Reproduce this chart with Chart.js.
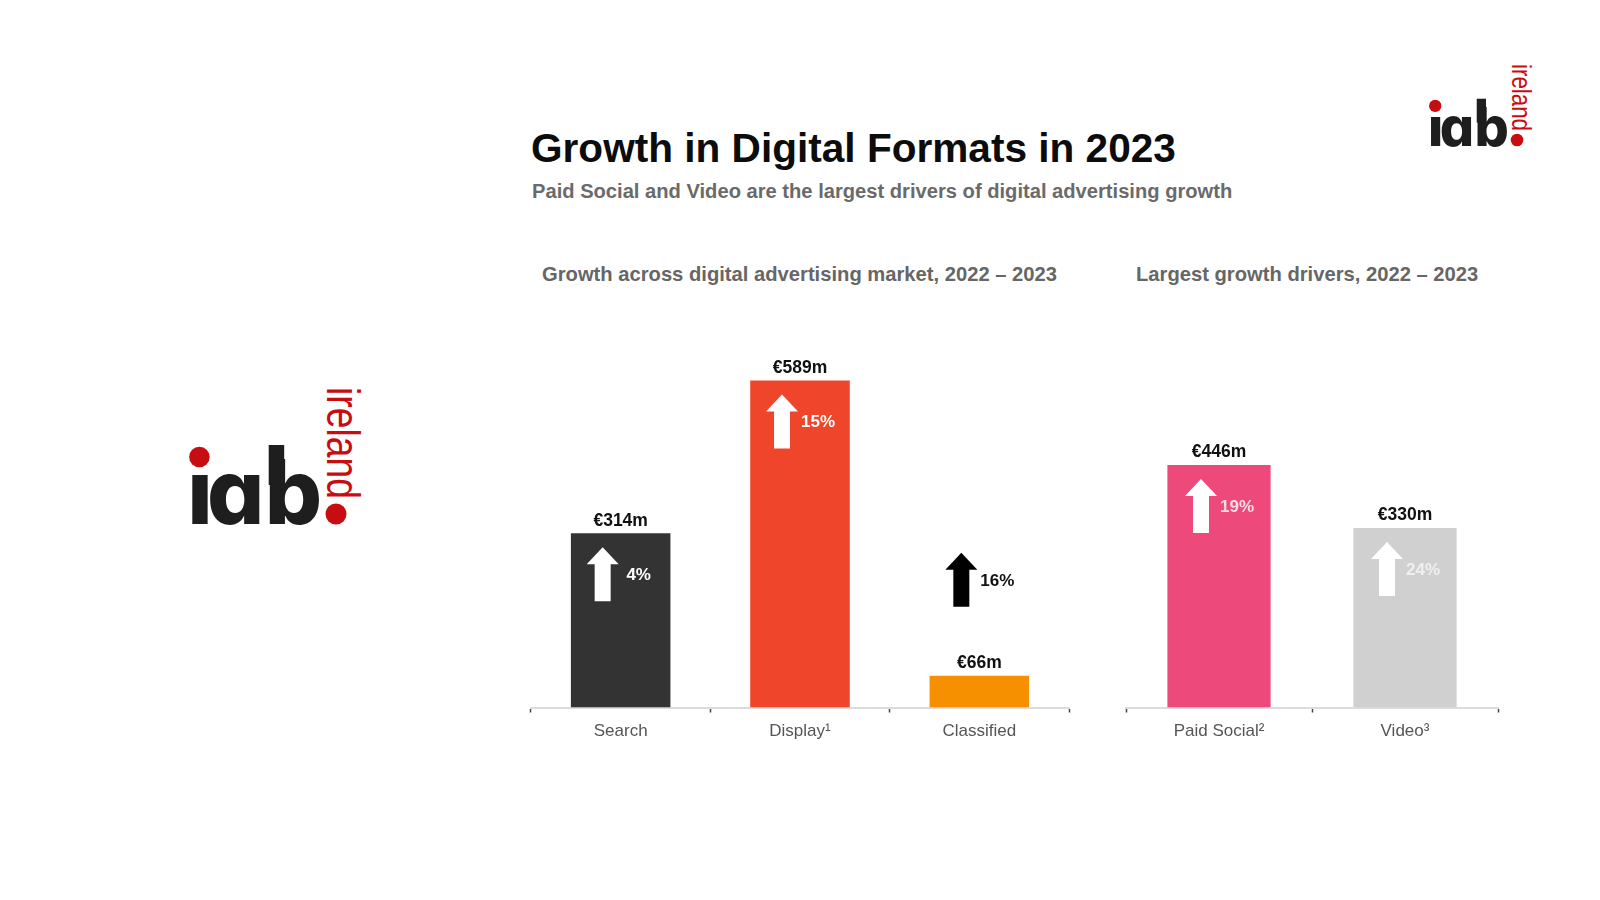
<!DOCTYPE html>
<html>
<head>
<meta charset="utf-8">
<script src="https://cdn.jsdelivr.net/npm/chart.js@4/dist/chart.umd.min.js"></script>
<style>
    html, body { margin: 0; background: #fff; width: 1600px; height: 900px; overflow: hidden; }
    body { font-family: "Liberation Sans", Arial, sans-serif; position: relative; }
    .txt { position: absolute; white-space: nowrap; font-weight: bold; line-height: 1; }
    #title { left: 531px; top: 128px; font-size: 40.6px; color: #0c0c0c; }
    #sub { left: 532px; top: 181px; font-size: 20.15px; color: #6a6a6a; }
    #headA { left: 542px; top: 264px; font-size: 20.2px; color: #666; }
    #headB { left: 1136px; top: 264px; font-size: 20.2px; color: #666; }
    canvas { position: absolute; }
    .logo { position: absolute; overflow: visible; }
</style>
</head>
<body>

<svg width="0" height="0" style="position:absolute">
    <symbol id="iabLogo" viewBox="0 0 180 150" overflow="visible">
        <text x="-1.8 17.9 75.8" y="135"
              style="font-family:Inter;font-weight:800;font-size:90px;font-feature-settings:'cv11'" fill="#1e1e1e">iab</text>
        <!-- i dot is red in the logo, b stem runs taller than the font's -->
        <rect x="0" y="50" width="22" height="34.5" fill="#fff"/>
        <rect x="79.7" y="56" width="15.5" height="40" fill="#1e1e1e"/>
        <circle cx="10.4" cy="68" r="10.3" fill="#c80d12"/>
        <circle cx="147" cy="125" r="10.5" fill="#c80d12"/>
        <text transform="translate(138,-2) rotate(90)" x="0" y="0" textLength="112" lengthAdjust="spacingAndGlyphs"
              style="font-family:'Liberation Sans';font-size:46px" fill="#c80d12">ireland</text>
    </symbol>
</svg>

<svg class="logo" style="left:189px;top:389px" width="172" height="143" viewBox="0 0 172 143"><use href="#iabLogo" width="180" height="150"/></svg>
<svg class="logo" style="left:1429px;top:65px" width="103" height="86" viewBox="0 0 172 143"><use href="#iabLogo" width="180" height="150"/></svg>

<div class="txt" id="title">Growth in Digital Formats in 2023</div>
<div class="txt" id="sub">Paid Social and Video are the largest drivers of digital advertising growth</div>
<div class="txt" id="headA">Growth across digital advertising market, 2022 – 2023</div>
<div class="txt" id="headB">Largest growth drivers, 2022 – 2023</div>

<canvas id="marketChart" style="left:527px;top:340px;width:546px;height:410px"></canvas>
<canvas id="driversChart" style="left:1122px;top:340px;width:380px;height:410px"></canvas>

<script>
    // left chart
    const marketCats = ['Search', 'Display¹', 'Classified'];
    // classified bar is drawn shorter in the picture than its €66m label says
    const marketValues = [314, 589, 57];
    const marketLabels = ['€314m', '€589m', '€66m'];
    const marketGrowth = ['4%', '15%', '16%'];
    const marketColors = ['#333333', '#ef452a', '#f79000'];

    // right chart
    const driverCats = ['Paid Social²', 'Video³'];
    const driverValues = [446, 330];
    const driverLabels = ['€446m', '€330m'];
    const driverGrowth = ['19%', '24%'];
    const driverColors = ['#ed4a7b', '#d0d0d0'];
    const driverGrowthText = ['#fbdbe5', '#f0f0f0'];

    // labels above bars, growth arrow + percentage next to it
    const barNotes = {
        id: 'barNotes',
        afterDatasetsDraw(chart, args, opts) {
            const ctx = chart.ctx;
            chart.getDatasetMeta(0).data.forEach((bar, i) => {
                ctx.save();
                ctx.textAlign = 'center';
                ctx.textBaseline = 'middle';
                ctx.fillStyle = '#111';
                ctx.font = 'bold 17.5px "Liberation Sans"';
                ctx.fillText(opts.labels[i], bar.x, bar.y - 12.5);

                // short bars get the arrow floating above them
                const tall = bar.base - bar.y > 100;
                const top = tall ? bar.y + 14 : bar.y - 123;
                const cx = bar.x - 18;
                ctx.fillStyle = tall ? '#fff' : '#000';
                ctx.beginPath();
                ctx.moveTo(cx, top);
                ctx.lineTo(cx + 16, top + 17);
                ctx.lineTo(cx + 8, top + 17);
                ctx.lineTo(cx + 8, top + 54);
                ctx.lineTo(cx - 8, top + 54);
                ctx.lineTo(cx - 8, top + 17);
                ctx.lineTo(cx - 16, top + 17);
                ctx.closePath();
                ctx.fill();

                ctx.font = 'bold 17px "Liberation Sans"';
                ctx.fillStyle = opts.growthText ? opts.growthText[i] : (tall ? '#fff' : '#111');
                ctx.fillText(opts.growth[i], bar.x + 18, top + 28);
                ctx.restore();
            });
        }
    };

    function makeChart(id, cats, values, colors, labels, growth, growthText, yMax) {
        return new Chart(document.getElementById(id), {
            type: 'bar',
            data: {
                labels: cats,
                datasets: [{ data: values, backgroundColor: colors, barPercentage: 0.555, categoryPercentage: 1 }]
            },
            plugins: [barNotes],
            options: {
                responsive: false,
                animation: false,
                layout: { padding: { left: 4, right: 4 } },
                plugins: {
                    legend: { display: false },
                    tooltip: { enabled: false },
                    barNotes: { labels, growth, growthText }
                },
                scales: {
                    y: { display: false, min: 0, max: yMax },
                    x: {
                        afterFit(scale) { scale.height = 42.5; },
                        grid: { drawOnChartArea: false, tickColor: '#444', tickLength: 5, tickWidth: 1.5 },
                        border: { color: '#dcdcdc', width: 2 },
                        ticks: { color: '#555', font: { family: '"Liberation Sans"', size: 17 }, padding: 9, maxRotation: 0 }
                    }
                }
            }
        });
    }

    function sizeCanvas(id) {
        const c = document.getElementById(id);
        c.width = parseInt(c.style.width);
        c.height = parseInt(c.style.height);
    }
    sizeCanvas('marketChart');
    sizeCanvas('driversChart');

    makeChart('marketChart', marketCats, marketValues, marketColors, marketLabels, marketGrowth, null, 662);
    makeChart('driversChart', driverCats, driverValues, driverColors, driverLabels, driverGrowth, driverGrowthText, 676);
</script>
</body>
</html>
